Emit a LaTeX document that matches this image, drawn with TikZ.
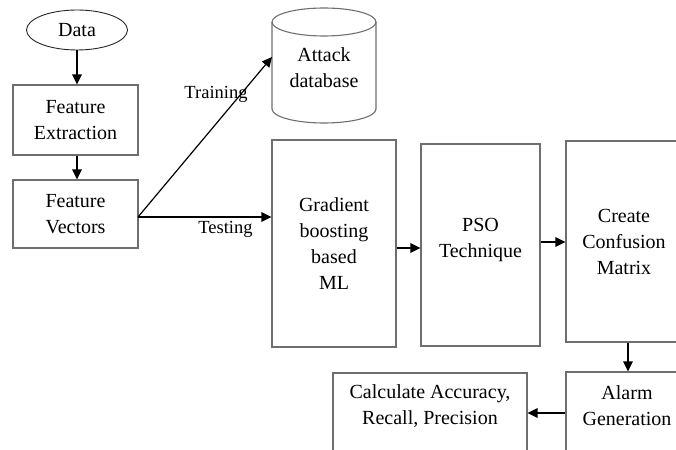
\documentclass[tikz,border=0pt]{standalone}
\usepackage{fontspec}
\setmainfont{Liberation Serif}
\usetikzlibrary{shapes.geometric,arrows.meta}
\definecolor{boxgray}{RGB}{110,110,110}
\begin{document}
\begin{tikzpicture}[x=1pt,y=-1pt,
  box/.style={draw=boxgray, line width=1.1pt, inner sep=0pt},
  txt/.style={font=\fontsize{20}{26}\selectfont, align=center, inner sep=0pt},
  lbl/.style={font=\fontsize{18.5}{22}\selectfont, inner sep=0pt},
  arr/.style={-{Triangle[length=10pt,width=9.5pt]}, line width=1.2pt}]
\useasboundingbox (0,0) rectangle (676,449);
\clip (0,0) rectangle (676,449);
% Data
\node[ellipse, draw=black!85, line width=0.9pt, minimum width=101pt, minimum height=40pt, txt] (data) at (77,30) {Data};
% left column
\node[box, txt, minimum width=125pt, minimum height=70pt] (fe) at (75.5,120) {Feature\\Extraction};
\node[box, txt, minimum width=125pt, minimum height=68pt] (fv) at (75.5,214) {Feature\\Vectors};
\draw[arr] (data.south) -- (data.south |- fe.north);
\draw[arr] (fe.south -| data.south) -- (fv.north -| data.south);
% cylinder
\draw[boxgray, line width=1.1pt] (324,22) ellipse [x radius=52pt, y radius=14pt];
\draw[boxgray, line width=1.1pt] (272,22) -- (272,109) arc[start angle=180, end angle=360, x radius=52pt, y radius=14pt] -- (376,22);
\node[txt] (db) at (324,68) {Attack\\database};
\coordinate (dbin) at (272,57);
% main boxes
\node[box, txt, minimum width=124pt, minimum height=207pt] (grad) at (334,243.5) {Gradient\\boosting\\based\\ML};
\node[box, minimum width=119pt, minimum height=202pt] (pso) at (480.5,245) {};
\node[txt] (psot) at (480.5,240) {PSO\\Technique};
\node[box, txt, minimum width=116pt, minimum height=201pt] (cm) at (624,241.5) {Create\\Confusion\\Matrix};
\node[box, minimum width=116pt, minimum height=110pt] (alarm) at (624,427) {};
\node[txt] (alarmt) at (627,405.5) {Alarm\\Generation};
\node[box, minimum width=194pt, minimum height=107pt] (calc) at (430,426.5) {};
\node[txt] (calct) at (430,406) {Calculate Accuracy,\\Recall, Precision};
% connectors
\coordinate (sp) at (138,217);
\draw[arr] (sp) -- (dbin);
\draw[arr] (sp) -- (sp -| grad.west);
\node[lbl] (train) at (216,94) {Training};
\node[lbl] (test) at (225.5,229) {Testing};
\draw[arr] ([yshift=-4.5pt]grad.east) -- ([yshift=-4.5pt]grad.east -| pso.west);
\draw[arr] ([yshift=3pt]pso.east) -- ([yshift=3pt]pso.east -| cm.west);
\draw[arr] ([xshift=4pt]cm.south) -- ([xshift=4pt]cm.south |- alarm.north);
\draw[arr] ([yshift=14pt]alarm.west) -- ([yshift=14pt]alarm.west -| calc.east);
\end{tikzpicture}
\end{document}
